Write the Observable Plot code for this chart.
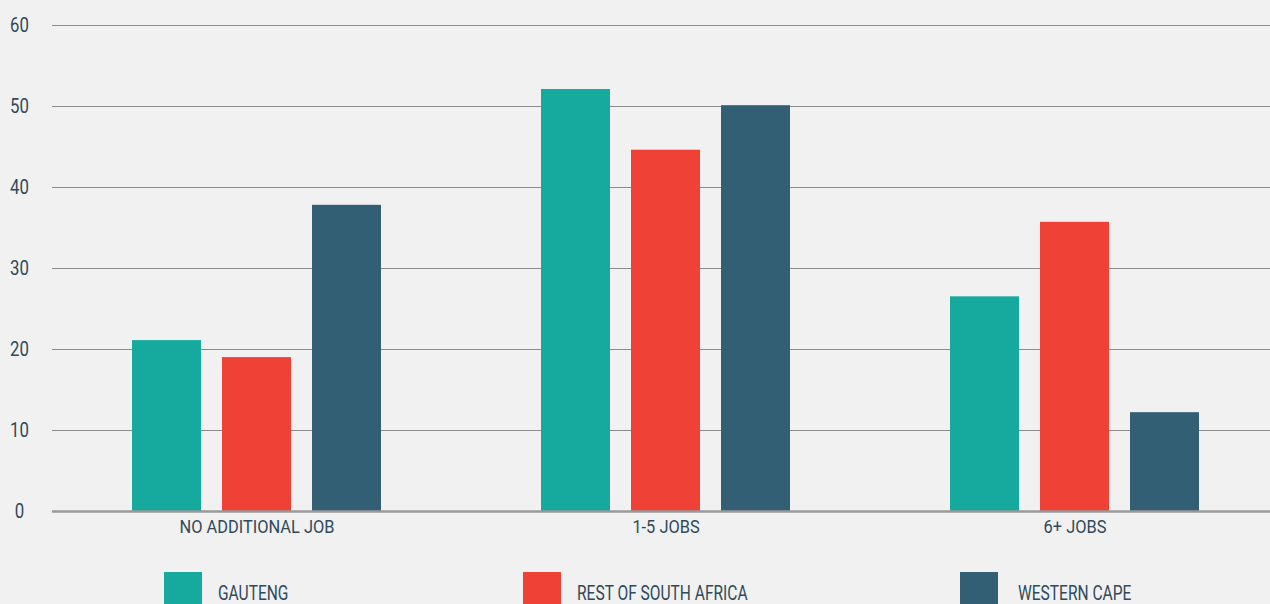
<!DOCTYPE html>
<html><head><meta charset="utf-8">
<script src="https://cdn.jsdelivr.net/npm/d3@7"></script>
<script src="https://cdn.jsdelivr.net/npm/@observablehq/plot@0.6"></script>
<style>
html,body{margin:0;padding:0;background:#f1f1f1;overflow:hidden;width:1270px;height:604px}
#chart svg{display:block;max-width:none;overflow:visible}
.legend{position:relative;height:38px;margin-top:6px;font-family:Roboto,sans-serif;font-size:21px;color:#2f4a5a}
.item{position:absolute;top:0;display:flex;align-items:center;height:38px;white-space:nowrap}
.item:nth-child(1){left:164px}
.item:nth-child(2){left:523px}
.item:nth-child(3){left:960px}
.item:nth-child(3) .sw{margin-right:20px}
.sw{width:38px;height:38px;margin-right:16px;flex:none}
.item span{display:inline-block;transform:scaleX(0.74);transform-origin:left center;padding-top:4px}
</style></head><body><div id="chart"></div><div class="legend" id="legend"></div>
<script>
const categories = ["NO ADDITIONAL JOB", "1-5 JOBS", "6+ JOBS"];
const series = ["GAUTENG", "REST OF SOUTH AFRICA", "WESTERN CAPE"];
const gauteng = [21.1, 52.1, 26.5];
const restOfSA = [19.0, 44.6, 35.7];
const westernCape = [37.8, 50.1, 12.2];
const colors = ["#16aa9e", "#ef4136", "#335f74"];
const yTicks = [0, 10, 20, 30, 40, 50, 60];

const values = [gauteng, restOfSA, westernCape];
const data = categories.flatMap((c, i) => series.map((s, j) => ({category: c, series: s, value: values[j][i]})));
const font = 'Roboto, sans-serif';
const textColor = "#2f4a5a";

const plot = Plot.plot({
  width: 1279, height: 566,
  marginTop: 25, marginBottom: 55, marginLeft: 52, marginRight: 0,
  style: {background: "transparent", fontFamily: font, fontSize: "18px", color: textColor},
  fx: {domain: categories, padding: 0, label: null},
  x: {domain: series, paddingInner: 0.23, paddingOuter: 0.88, axis: null},
  y: {domain: [0, 60], label: null, axis: null},
  color: {domain: series, range: colors},
  marks: [
    Plot.gridY(yTicks.filter(d => d > 0), {stroke: "#8c8c8c", strokeOpacity: 1, strokeWidth: 1}),
    Plot.barY(data, {fx: "category", x: "series", y: "value", fill: "series"}),
    Plot.ruleY([0], {stroke: "#9a9a9a", strokeWidth: 2.5}),
    Plot.axisY(yTicks, {tickSize: 0, tickPadding: 33, textAnchor: "middle", fill: textColor, fontSize: 20, className: "yax"}),
    Plot.axisFx({anchor: "bottom", tickSize: 0, tickPadding: 9, label: null, fill: textColor, fontSize: 18, className: "fxax"})
  ]
});
document.getElementById("chart").append(plot);

// condensed look: squeeze glyphs horizontally
function condense(sel, f) {
  plot.querySelectorAll(sel).forEach(t => {
    const len = t.getComputedTextLength();
    t.setAttribute("textLength", len * f);
    t.setAttribute("lengthAdjust", "spacingAndGlyphs");
  });
}
condense(".yax text", 0.84);
condense(".fxax text", 0.91);

const legend = d3.select("#legend");
const items = legend.selectAll(".item").data(series).join("div").attr("class", "item");
items.append("div").attr("class", "sw").style("background", (d, i) => colors[i]);
items.append("span").text(d => d);
</script>
</body></html>
